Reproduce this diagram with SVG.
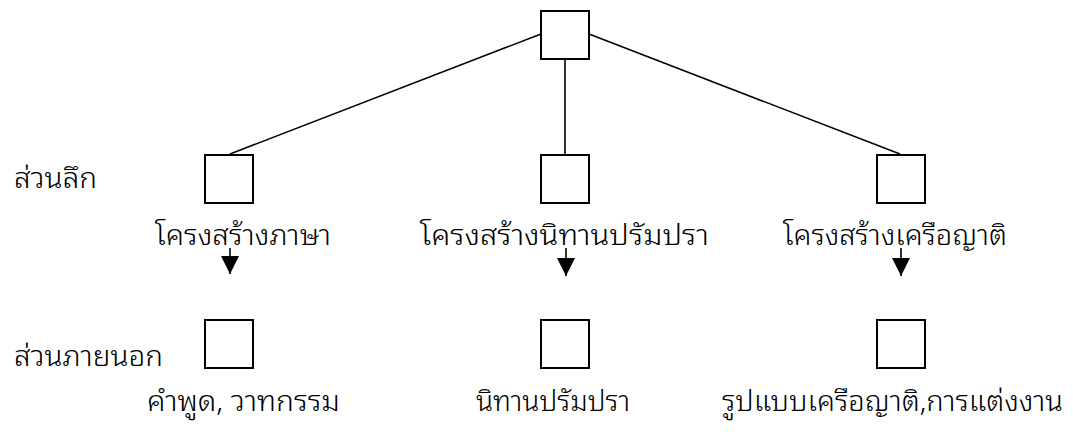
<svg xmlns="http://www.w3.org/2000/svg" width="1073" height="435" viewBox="0 0 1073 435">
  <style>
    .box { fill: #ffffff; stroke: #000000; stroke-width: 2; }
    .edge { stroke: #000000; stroke-width: 1.6; fill: none; }
    .lbl { font-family: "Noto Sans Thai Looped", "Noto Sans Thai", "Noto Sans", "DejaVu Sans", "Liberation Sans", sans-serif; font-size: 29px; font-weight: 300; fill: #000000; }
  </style>
  <defs>
    <marker id="arrow" markerUnits="userSpaceOnUse" markerWidth="18" markerHeight="18" refX="18" refY="9" orient="auto">
      <path d="M0,0 L18,9 L0,18 z" fill="#000000"/>
    </marker>
  </defs>
  <rect width="1073" height="435" fill="#ffffff"/>

  <g id="connectors">
    <line class="edge" x1="541" y1="34" x2="230" y2="154"/>
    <line class="edge" x1="565" y1="59" x2="565" y2="154"/>
    <line class="edge" x1="589" y1="34" x2="900" y2="154"/>
    <line class="edge" x1="230" y1="248" x2="230" y2="274" marker-end="url(#arrow)"/>
    <line class="edge" x1="566" y1="248" x2="566" y2="276" marker-end="url(#arrow)"/>
    <line class="edge" x1="901" y1="248" x2="901" y2="276" marker-end="url(#arrow)"/>
  </g>

  <g id="row-labels">
    <text class="lbl" x="14" y="188" textLength="83" lengthAdjust="spacingAndGlyphs">ส่วนลึก</text>
    <text class="lbl" x="14" y="366" textLength="149" lengthAdjust="spacingAndGlyphs">ส่วนภายนอก</text>
  </g>

  <g id="root">
    <rect class="box" x="541" y="11" width="48" height="48"/>
  </g>

  <g id="deep-language">
    <rect class="box" x="205" y="155" width="48" height="48"/>
    <text class="lbl" x="155" y="245" textLength="176" lengthAdjust="spacingAndGlyphs">โครงสร้างภาษา</text>
  </g>
  <g id="deep-myth">
    <rect class="box" x="541" y="155" width="48" height="48"/>
    <text class="lbl" x="420" y="245" textLength="289" lengthAdjust="spacingAndGlyphs">โครงสร้างนิทานปรัมปรา</text>
  </g>
  <g id="deep-kinship">
    <rect class="box" x="877" y="155" width="48" height="48"/>
    <text class="lbl" x="783" y="245" textLength="224" lengthAdjust="spacingAndGlyphs">โครงสร้างเครือญาติ</text>
  </g>

  <g id="surface-language">
    <rect class="box" x="205" y="320" width="48" height="48"/>
    <text class="lbl" x="147" y="411" textLength="193" lengthAdjust="spacingAndGlyphs">คำพูด, วาทกรรม</text>
  </g>
  <g id="surface-myth">
    <rect class="box" x="541" y="320" width="48" height="48"/>
    <text class="lbl" x="476" y="411" textLength="154" lengthAdjust="spacingAndGlyphs">นิทานปรัมปรา</text>
  </g>
  <g id="surface-kinship">
    <rect class="box" x="877" y="320" width="48" height="48"/>
    <text class="lbl" x="722" y="411" textLength="341" lengthAdjust="spacingAndGlyphs">รูปแบบเครือญาติ,การแต่งงาน</text>
  </g>
</svg>
